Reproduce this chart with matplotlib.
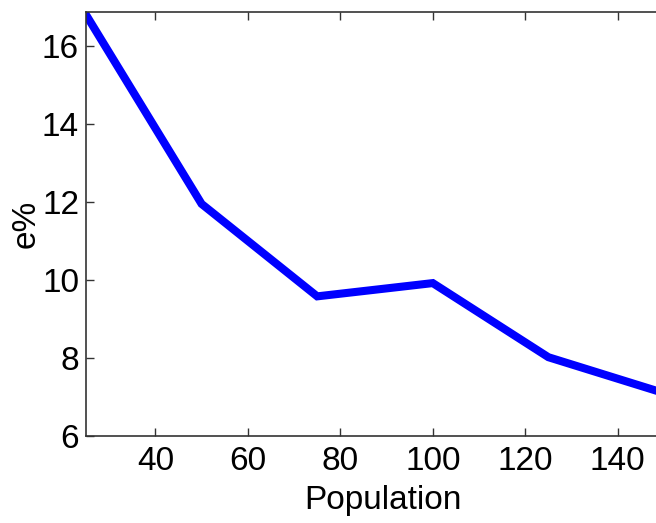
import matplotlib.pyplot as plt

# data
population = [25, 50, 75, 100, 125, 150]
error_pct = [16.8, 11.95, 9.58, 9.92, 8.02, 7.1]

x_ticks = [40, 60, 80, 100, 120, 140]
y_ticks = [6, 8, 10, 12, 14, 16]

plt.rcParams['font.family'] = ['Liberation Sans', 'DejaVu Sans']

fig = plt.figure(figsize=(6.56, 5.23), dpi=100)
# axes runs slightly past the right edge, like the cropped original
ax = fig.add_axes([86 / 656, 87 / 523, (664 - 86) / 656, (436 - 12) / 523])

ax.plot(population, error_pct, color='#0000ff', linewidth=5.8, solid_joinstyle='miter')

ax.set_xlim(25, 150)
ax.set_ylim(6, 16.87)
ax.set_xticks(x_ticks)
ax.set_yticks(y_ticks)
ax.tick_params(direction='in', length=6, width=1, labelsize=24, top=True, right=True,
               color='#333333', pad=7)
ax.tick_params(axis='y', pad=5)
for s in ax.spines.values():
    s.set_color('#333333')
    s.set_linewidth(1.2)

ax.set_xlabel('Population', fontsize=24)
ax.set_ylabel('e%', fontsize=24)
ax.xaxis.set_label_coords((383 - 86) / 578, -(500 - 436) / 424)
ax.yaxis.set_label_coords((26 - 86) / 578, (436 - 224) / 424)
ax.xaxis.label.set_va('center')
ax.yaxis.label.set_va('center')

fig.savefig('out.png', dpi=100)
